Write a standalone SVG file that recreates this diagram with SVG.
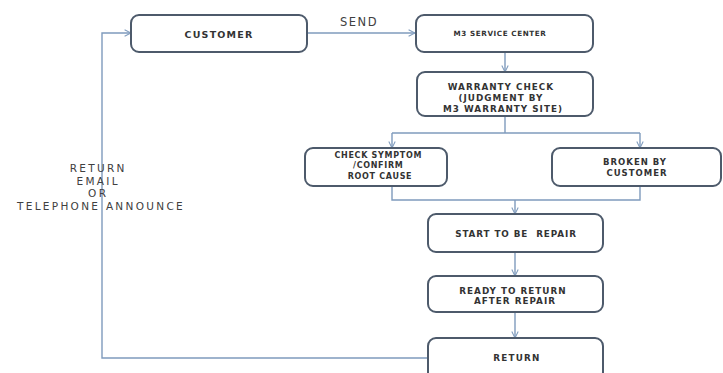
<svg xmlns="http://www.w3.org/2000/svg" width="723" height="373" viewBox="0 0 723 373">
  <defs>
    <marker id="arrow" viewBox="0 0 10 10" refX="9" refY="5" markerWidth="8" markerHeight="8" orient="auto" markerUnits="userSpaceOnUse">
      <path d="M1,1 L9,5 L1,9" fill="none" stroke="#7f9bbd" stroke-width="1.3"/>
    </marker>
  </defs>
  <style>
    .box { fill: #ffffff; stroke: #4d5a6b; stroke-width: 2; }
    .lbl { font-family: "DejaVu Sans", Verdana, sans-serif; font-weight: bold; fill: #333333; text-anchor: middle; }
    .plain { font-family: "DejaVu Sans", Verdana, sans-serif; fill: #404040; text-anchor: middle; }
    .conn { fill: none; stroke: #7f9bbd; stroke-width: 1.4; }
  </style>
  <rect width="723" height="373" fill="#ffffff"/>

  <!-- connectors -->
  <g id="connectors">
    <path class="conn" d="M307,33 H415" marker-end="url(#arrow)"/>
    <path class="conn" d="M505,52 V72" marker-end="url(#arrow)"/>
    <path class="conn" d="M505,116 V133"/>
    <path class="conn" d="M392,133 H640"/>
    <path class="conn" d="M392,133 V148" marker-end="url(#arrow)"/>
    <path class="conn" d="M640,133 V148" marker-end="url(#arrow)"/>
    <path class="conn" d="M392,186 V200 H640 V186"/>
    <path class="conn" d="M515,200 V214" marker-end="url(#arrow)"/>
    <path class="conn" d="M515,252 V276" marker-end="url(#arrow)"/>
    <path class="conn" d="M515,312 V338" marker-end="url(#arrow)"/>
    <path class="conn" d="M429,358 H102 V33 H131" marker-end="url(#arrow)"/>
    <text class="plain" x="359" y="26" font-size="11.5" letter-spacing="1.5">SEND</text>
    <text class="plain" font-size="10.5" letter-spacing="2.3">
      <tspan x="101" y="172">RETURN</tspan>
      <tspan x="101" y="184.5">EMAIL</tspan>
      <tspan x="101" y="197">OR</tspan>
      <tspan x="101" y="209.5">TELEPHONE ANNOUNCE</tspan>
    </text>
  </g>

  <g id="customer">
    <rect class="box" x="131" y="15" width="176" height="37" rx="8"/>
    <text class="lbl" x="219" y="37.5" font-size="9.5" letter-spacing="1.2">CUSTOMER</text>
  </g>

  <g id="m3-service-center">
    <rect class="box" x="416" y="15" width="177" height="37" rx="8"/>
    <text class="lbl" x="500" y="36" font-size="7.2" letter-spacing="0.6">M3 SERVICE CENTER</text>
  </g>

  <g id="warranty-check">
    <rect class="box" x="417" y="72" width="176" height="44" rx="8"/>
    <text class="lbl" font-size="8.8" letter-spacing="1">
      <tspan x="503" y="90">WARRANTY CHECK</tspan>
      <tspan x="503" y="101">(JUDGMENT BY</tspan>
      <tspan x="503" y="112">M3 WARRANTY SITE)</tspan>
    </text>
  </g>

  <g id="check-symptom">
    <rect class="box" x="305" y="148" width="142" height="38" rx="8"/>
    <text class="lbl" font-size="8" letter-spacing="0.7">
      <tspan x="380" y="158">CHECK SYMPTOM</tspan>
      <tspan x="380" y="168">/CONFIRM</tspan>
      <tspan x="380" y="179">ROOT CAUSE</tspan>
    </text>
  </g>

  <g id="broken-by-customer">
    <rect class="box" x="552" y="148" width="169" height="38" rx="8"/>
    <text class="lbl" font-size="8.5" letter-spacing="1">
      <tspan x="637" y="165">BROKEN BY</tspan>
      <tspan x="637" y="176">CUSTOMER</tspan>
    </text>
  </g>

  <g id="start-repair">
    <rect class="box" x="428" y="214" width="175" height="38" rx="8"/>
    <text class="lbl" x="516" y="236.5" font-size="8.8" letter-spacing="0.9" xml:space="preserve">START TO BE  REPAIR</text>
  </g>

  <g id="ready-to-return">
    <rect class="box" x="428" y="276" width="175" height="36" rx="8"/>
    <text class="lbl" font-size="8.8" letter-spacing="1">
      <tspan x="515" y="294">READY TO RETURN</tspan>
      <tspan x="515" y="304">AFTER REPAIR</tspan>
    </text>
  </g>

  <g id="return">
    <rect class="box" x="428" y="338" width="175" height="42" rx="8"/>
    <text class="lbl" x="517" y="361" font-size="8.8" letter-spacing="1.2">RETURN</text>
  </g>
</svg>
